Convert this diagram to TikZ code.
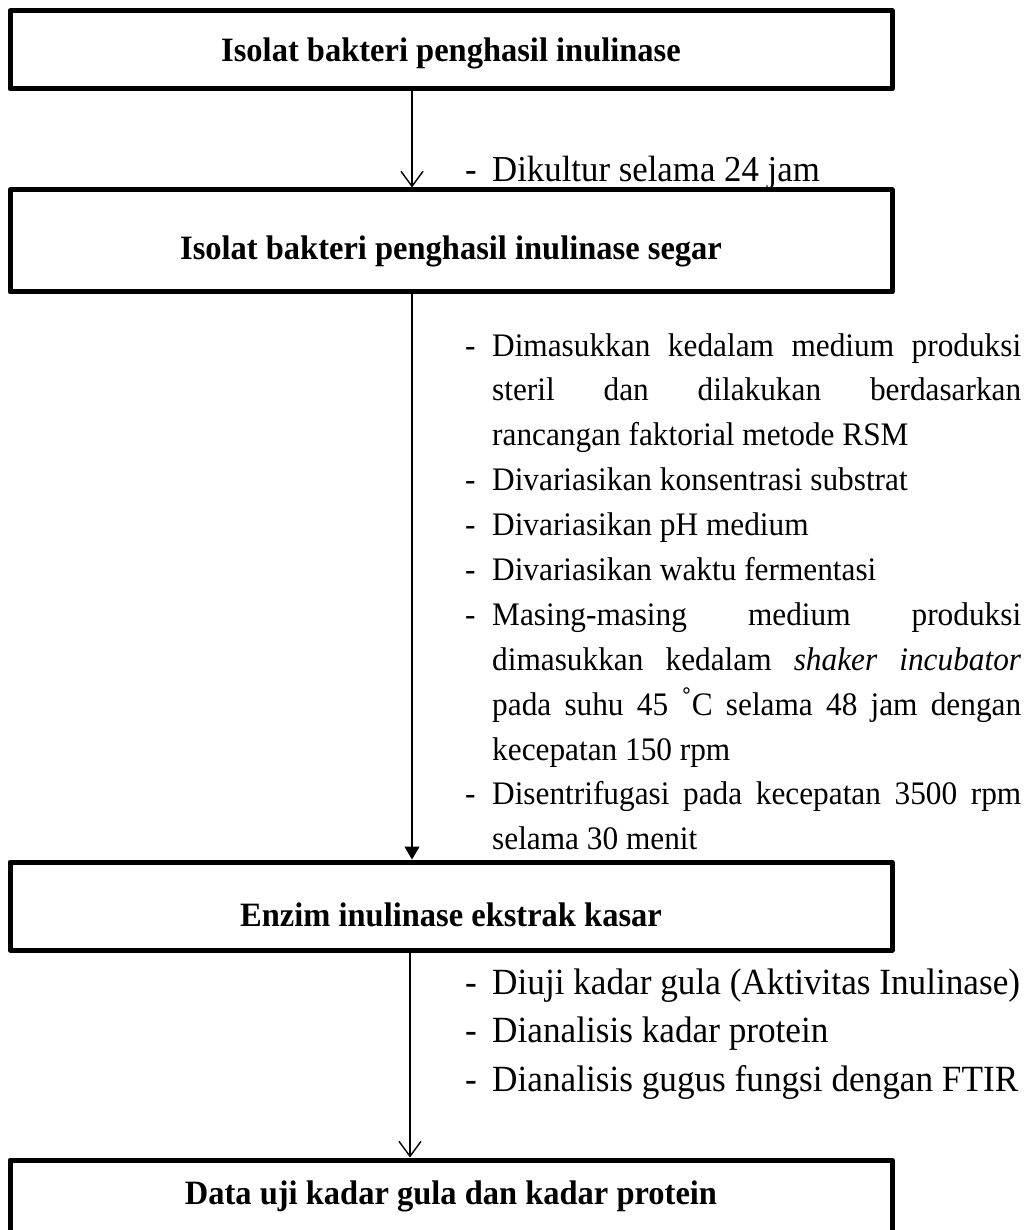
\documentclass[tikz,border=0pt]{standalone}
\usepackage{fontspec}
\usepackage{graphicx}
\setmainfont{Liberation Serif}
\usetikzlibrary{arrows.meta}
\newcommand\stepitem[1]{\par\hangindent=48pt\hangafter=1\noindent\makebox[48pt][l]{\hspace{21pt}-}#1\par}
\newcommand\vstretch[1]{\scalebox{1}[1.05]{#1}}
\newcommand\steplist[4]{\vstretch{\parbox[t]{#1}{\fontsize{#2}{#3}\selectfont
  \tolerance=10000\hbadness=10000\parindent=0pt\parskip=0pt #4}}}
\begin{document}
\begin{tikzpicture}[x=1pt,y=-1pt,
  box/.style={draw, line width=5pt, line join=round, inner sep=0pt, minimum width=882pt},
  title/.style={font=\fontsize{32.5}{39}\selectfont\bfseries, inner sep=0pt, anchor=base},
  steps/.style={inner sep=0pt, anchor=base west},
  flow/.style={line width=1.4pt, -{Straight Barb[length=15pt,width=22pt,line width=1.4pt]}},
  flowfill/.style={line width=1.4pt, -{Triangle[length=13pt,width=15pt]}}
]
\useasboundingbox (0,0) rectangle (1032,1230);
\clip (0,0) rectangle (1032,1230);

% boxes
\node[box, minimum height=78pt] (b1) at (451,50) {};
\node[box, minimum height=102pt] (b2) at (451,241) {};
\node[box, minimum height=88pt] (b3) at (451,906) {};
\node[box, minimum height=100pt] (b4) at (451,1210) {};

% titles
\node[title] (t1) at (451,62) {\vstretch{Isolat bakteri penghasil inulinase}};
\node[title] (t2) at (451,260) {\vstretch{Isolat bakteri penghasil inulinase segar}};
\node[title] (t3) at (451,926) {\vstretch{Enzim inulinase ekstrak kasar}};
\node[title] (t4) at (451,1204) {\vstretch{Data uji kadar gula dan kadar protein}};

% arrow columns
\coordinate (c1) at (412,0);
\coordinate (c2) at (412,0);
\coordinate (c3) at (410,0);

\draw[flow] (b1.south -| c1) -- (b2.north -| c1);
\draw[flowfill] (b2.south -| c2) -- (b3.north -| c2);
\draw[flow] (b3.south -| c3) -- (b4.north -| c3);

% step texts
\node[steps] (s1) at (444,182) {\steplist{600pt}{34.8}{46.2}{\raggedright
\stepitem{Dikultur selama 24 jam}}};

\node[steps] (s2) at (444,356) {\steplist{577pt}{31.3}{42.76}{%
\stepitem{Dimasukkan kedalam medium produksi\linebreak steril dan dilakukan berdasarkan\linebreak rancangan faktorial metode RSM}%
\stepitem{Divariasikan konsentrasi substrat}%
\stepitem{Divariasikan pH medium}%
\stepitem{Divariasikan waktu fermentasi}%
\stepitem{Masing-masing medium produksi\linebreak dimasukkan kedalam \textit{shaker incubator}\linebreak pada suhu 45 \raisebox{0.1em}{˚}C selama 48 jam dengan\linebreak kecepatan 150 rpm}%
\stepitem{Disentrifugasi pada kecepatan 3500 rpm\linebreak selama 30 menit}}};

\node[steps] (s3) at (444,994) {\steplist{600pt}{35.2}{46.2}{\raggedright
\stepitem{Diuji kadar gula (Aktivitas Inulinase)}%
\stepitem{Dianalisis kadar protein}%
\stepitem{Dianalisis gugus fungsi dengan FTIR}}};
\end{tikzpicture}
\end{document}
